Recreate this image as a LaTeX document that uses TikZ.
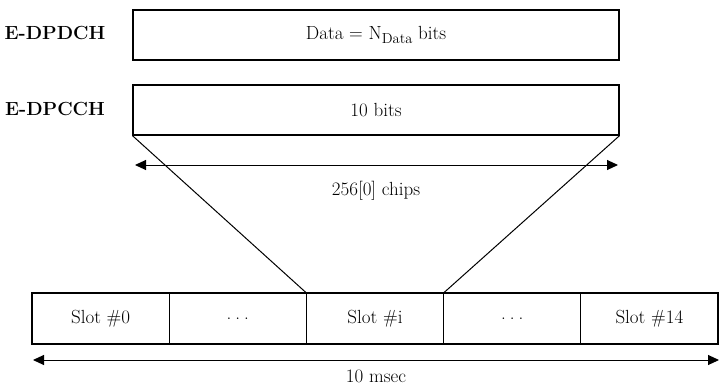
\documentclass[tikz,border=0pt]{standalone}
\usetikzlibrary{arrows.meta}
\begin{document}
\begin{tikzpicture}[x=1pt,y=-1pt,
  txt/.style={inner sep=0pt,font=\fontsize{19}{22}\selectfont},
  lbl/.style={inner sep=0pt,font=\fontsize{19}{22}\selectfont\bfseries},
  box/.style={draw,line width=1.2pt,inner sep=0pt,minimum width=486pt,minimum height=50pt,font=\fontsize{19}{22}\selectfont},
  slot/.style={draw,line width=1.2pt,inner sep=0pt,minimum width=137.2pt,minimum height=51pt,font=\fontsize{19}{22}\selectfont},
  conn/.style={line width=1pt},
  dim/.style={line width=1pt,{Triangle[length=11pt,width=10pt]}-{Triangle[length=11pt,width=10pt]}}]
\useasboundingbox (0,0) rectangle (719,385);
\node[lbl] (l1) at (55,33) {E-DPDCH};
\node[lbl] (l2) at (55,109) {E-DPCCH};
\node[box] (dpdch) at (376,35) {Data = N\raisebox{-0.45ex}{\fontsize{14.5}{16}\selectfont Data} bits};
\node[box] (dpcch) at (376,110) {10 bits};
\node[slot] (s0) at (100.6,318.5) {Slot \#0};
\node[slot] (s1) at (237.8,318.5) {.\hspace{4pt}.\hspace{4pt}.};
\node[slot] (s2) at (375.0,318.5) {Slot \#i};
\node[slot] (s3) at (512.2,318.5) {.\hspace{4pt}.\hspace{4pt}.};
\node[slot] (s4) at (649.4,318.5) {Slot \#14};
\draw[conn] (dpcch.south west) -- (s2.north west);
\draw[conn] (dpcch.south east) -- (s2.north east);
\coordinate (a1) at (135,165);
\coordinate (a2) at (618,165);
\draw[dim] (a1) -- (a2);
\node[txt] (chips) at (376,191) {256[0] chips};
\coordinate (b1) at (33,360);
\coordinate (b2) at (719,360);
\draw[dim] (b1) -- (b2);
\node[txt] (ms) at (376,376) {10 msec};
\end{tikzpicture}
\end{document}
